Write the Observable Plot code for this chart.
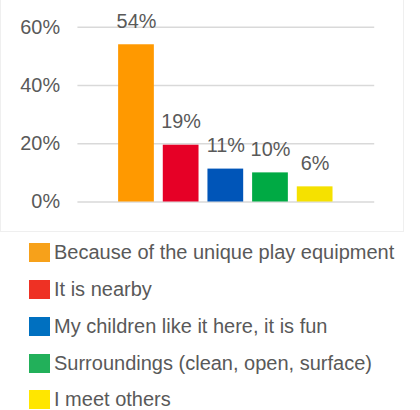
<!DOCTYPE html>
<html>
<head>
<meta charset="utf-8">
<script src="https://cdn.jsdelivr.net/npm/d3@7"></script>
<script src="https://cdn.jsdelivr.net/npm/@observablehq/plot@0.6"></script>
<style>
  html, body { margin: 0; padding: 0; background: #fff; }
  body { width: 420px; height: 410px; overflow: hidden; font-family: "Liberation Sans", Arial, sans-serif; }
  #chart { position: absolute; left: 0; top: 0; width: 404px; height: 232px; box-sizing: border-box; border: 1px solid #efefef; border-top: none; }
  #chart svg { position: absolute; left: -1px; top: 0; }
  #legend { position: absolute; left: 29px; top: 234.6px; }
  .row { height: 36.75px; display: flex; align-items: center; }
  .sw { width: 21px; height: 19px; margin-right: 4px; flex: none; }
  .lab { font-size: 20px; color: #595959; white-space: nowrap; }
</style>
</head>
<body>
<div id="chart"></div>
<div id="legend"></div>
<script>
const categories = [
  "Because of the unique play equipment",
  "It is nearby",
  "My children like it here, it is fun",
  "Surroundings (clean, open, surface)",
  "I meet others"
];
const values = [54, 19.5, 11.3, 10, 5.2];
const valueLabels = ["54%", "19%", "11%", "10%", "6%"];
const barColors = ["#ff9900", "#e60026", "#0055b8", "#00aa44", "#f5e100"];
const legendColors = ["#f7a11a", "#ee3124", "#0070c0", "#22b05a", "#ffe600"];
const yTicks = [0, 20, 40, 60];

const data = categories.map((c, i) => ({cat: c, value: values[i], label: valueLabels[i], color: barColors[i]}));

const chart = Plot.plot({
  width: 405,
  height: 232,
  marginLeft: 78,
  marginRight: 28,
  marginTop: 27,
  marginBottom: 29,
  style: {fontFamily: "'Liberation Sans', Arial, sans-serif", fontSize: "20px", color: "#595959", background: "transparent"},
  x: {domain: categories, paddingInner: 0.19, paddingOuter: 0.89, axis: null},
  y: {domain: [0, 60], ticks: yTicks, tickFormat: d => d + "%", tickSize: 0, tickPadding: 18, label: null},
  color: {type: "identity"},
  marks: [
    Plot.ruleY(yTicks, {stroke: "#d9d9d9", strokeWidth: 1.5}),
    Plot.barY(data, {x: "cat", y: "value", fill: "color"}),
    Plot.text(data, {x: "cat", y: "value", text: "label", dy: -17, lineAnchor: "bottom", fill: "#595959", fontSize: 20}),
    Plot.axisY({ticks: yTicks, tickFormat: d => d + "%", tickSize: 0, tickPadding: 18, fontSize: 20, fill: "#595959", label: null})
  ]
});
document.getElementById("chart").appendChild(chart);

const legend = document.getElementById("legend");
categories.forEach((c, i) => {
  const row = document.createElement("div");
  row.className = "row";
  const sw = document.createElement("div");
  sw.className = "sw";
  sw.style.background = legendColors[i];
  const lab = document.createElement("span");
  lab.className = "lab";
  lab.textContent = c;
  row.appendChild(sw);
  row.appendChild(lab);
  legend.appendChild(row);
});
</script>
</body>
</html>
